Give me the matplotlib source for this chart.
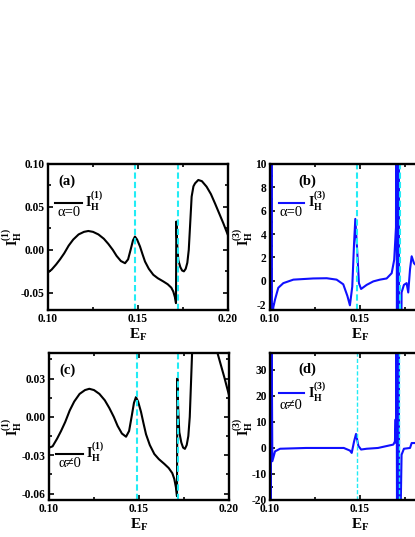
import matplotlib
matplotlib.use("Agg")
import matplotlib.pyplot as plt
from matplotlib.ticker import MultipleLocator

plt.rcParams['font.family'] = ['Liberation Serif', 'DejaVu Serif']
plt.rcParams['font.weight'] = 'bold'
plt.rcParams['mathtext.fontset'] = 'custom'
plt.rcParams['mathtext.rm'] = 'Liberation Serif:bold'
plt.rcParams['mathtext.it'] = 'Liberation Serif:bold'
plt.rcParams['mathtext.bf'] = 'Liberation Serif:bold'

# ---- data ----
ef1 = [0.1002, 0.1020, 0.1045, 0.1067, 0.1090, 0.1115, 0.1140, 0.1170, 0.1200, 0.1224,
       0.1250, 0.1280, 0.1310, 0.1335, 0.1360, 0.1381, 0.1405, 0.1428, 0.1445, 0.1460,
       0.1472, 0.1483, 0.1495, 0.1511, 0.1525, 0.1539, 0.1560, 0.1585, 0.1610, 0.1641,
       0.1665, 0.1685, 0.1696, 0.1705, 0.1711, 0.1713, 0.1718, 0.1724, 0.1735, 0.1745,
       0.1755, 0.1765, 0.1774, 0.1782, 0.1789, 0.1798, 0.1808, 0.1817, 0.1835, 0.1855,
       0.1881, 0.1905, 0.1928, 0.1950, 0.1974, 0.2000]
ih1_a0 = [-0.026, -0.023, -0.017, -0.011, -0.004, 0.005, 0.012, 0.018, 0.021, 0.022,
          0.021, 0.018, 0.013, 0.007, 0.000, -0.007, -0.013, -0.0155, -0.011, 0.001,
          0.011, 0.0155, 0.012, 0.004, -0.005, -0.0136, -0.022, -0.029, -0.033, -0.0368,
          -0.040, -0.044, -0.0485, -0.055, -0.062, 0.033, 0.005, -0.012, -0.020, -0.024,
          -0.025, -0.022, -0.015, 0.000, 0.027, 0.062, 0.074, 0.0775, 0.0814, 0.080,
          0.0736, 0.065, 0.054, 0.043, 0.031, 0.017]
ih1_an = [-0.024, -0.023, -0.017, -0.011, -0.004, 0.005, 0.012, 0.018, 0.021, 0.022,
          0.021, 0.018, 0.013, 0.007, 0.000, -0.007, -0.013, -0.0155, -0.011, 0.001,
          0.011, 0.0155, 0.012, 0.004, -0.005, -0.0136, -0.022, -0.029, -0.033, -0.0368,
          -0.040, -0.044, -0.0485, -0.055, -0.062, 0.030, 0.005, -0.012, -0.020, -0.024,
          -0.025, -0.022, -0.015, 0.000, 0.027, 0.062, 0.074, 0.0775, 0.0814, 0.080,
          0.0736, 0.065, 0.054, 0.043, 0.031, 0.017]

ef3_a0 = [0.1000, 0.1004, 0.1008, 0.1012, 0.1018, 0.1028, 0.1046, 0.1074, 0.1130, 0.1240,
          0.1315, 0.1370, 0.1407, 0.1430, 0.1444, 0.1457, 0.1467, 0.1474, 0.1485, 0.1494,
          0.1506, 0.1537, 0.1574, 0.1611, 0.1648, 0.1676, 0.1690, 0.1700, 0.1703, 0.1706,
          0.1709, 0.1712, 0.1715, 0.1718, 0.1721, 0.1731, 0.1744, 0.1759, 0.1768, 0.1778,
          0.1787, 0.1800, 0.1820]
ih3_a0 = [40.0, -30.0, 30.0, -30.0, -2.3, -1.6, -0.6, -0.2, 0.1, 0.2,
          0.22, 0.1, -0.3, -1.3, -2.1, -0.5, 3.2, 5.3, 2.4, -0.2,
          -0.7, -0.35, -0.05, 0.1, 0.2, 0.65, 1.8, 4.6, 40.0, -30.0,
          40.0, -30.0, 40.0, -30.0, -30.0, -1.0, -0.35, -0.2, -1.0, 1.0,
          2.1, 1.5, 1.2]

ef3_an = [0.1000, 0.1004, 0.1008, 0.1013, 0.1028, 0.1056, 0.1200, 0.1410, 0.1444, 0.1454,
          0.1467, 0.1478, 0.1491, 0.1506, 0.1537, 0.1600, 0.1685, 0.1694, 0.1698, 0.1700,
          0.1703, 0.1706, 0.1709, 0.1712, 0.1715, 0.1718, 0.1722, 0.1731, 0.1744, 0.1778,
          0.1787, 0.1806, 0.1820]
ih3_an = [60.0, -40.0, 60.0, -5.1, -1.3, -0.3, 0.0, 0.0, -1.0, -1.9,
          2.5, 5.4, 0.8, -0.6, -0.3, 0.0, 1.3, 2.5, 11.0, 2.0,
          60.0, -40.0, 60.0, -40.0, 60.0, -40.0, -40.0, -2.6, -0.3, 0.0,
          1.9, 1.9, 1.5]

vlines_a = [0.1483, 0.1722]
vlines_b = [0.1483, 0.1722]
vlines_c = [0.1487, 0.1715]
vlines_d = [0.1482, 0.1718]

xticks = [0.10, 0.15, 0.20]
xticklabels = ['0.10', '0.15', '0.20']

# ---- figure ----
W, H = 415, 537
fig = plt.figure(figsize=(W / 100, H / 100), dpi=100)

def pos(l, t, r, b):
    return [l / W, 1 - b / H, (r - l) / W, (b - t) / H]

ax_a = fig.add_axes(pos(48, 164, 228, 310))
ax_b = fig.add_axes(pos(270, 164, 450, 310))
ax_c = fig.add_axes(pos(49, 353, 229, 500))
ax_d = fig.add_axes(pos(270, 353, 450, 500))

cyan = '#22ecf5'
blue = '#1010ff'

def style(ax, ylim, ymaj, ymin, yfmt, ylab, ylx):
    ax.set_xlim(0.10, 0.20)
    ax.set_ylim(*ylim)
    ax.set_xticks(xticks)
    ax.set_xticklabels(xticklabels)
    ax.xaxis.set_minor_locator(MultipleLocator(0.025))
    ax.yaxis.set_major_locator(MultipleLocator(ymaj))
    ax.yaxis.set_minor_locator(MultipleLocator(ymin))
    ax.yaxis.set_major_formatter(plt.FormatStrFormatter(yfmt))
    ax.tick_params(which='both', direction='in', top=True, right=True,
                   labelsize=8.3, width=1.2, pad=2.5)
    ax.tick_params(which='major', length=3.5)
    ax.tick_params(which='minor', length=2.2)
    for lab in ax.get_xticklabels() + ax.get_yticklabels():
        lab.set_fontweight('bold')
    for sp in ax.spines.values():
        sp.set_linewidth(1.7)
    ax.set_xlabel(r'$\mathrm{E_F}$', fontsize=11, labelpad=1)
    ax.set_ylabel(ylab, fontsize=10)
    ax.yaxis.set_label_coords(ylx, 0.5)

# (a)
ax_a.plot(ef1, ih1_a0, color='black', lw=1.5, label=r'$\mathrm{I_H^{(1)}}$')
for v in vlines_a:
    ax_a.axvline(v, color=cyan, ls=(0, (3, 1.5)), lw=1.5)
style(ax_a, (-0.07, 0.10), 0.05, 0.025, '%.2f', r'$\mathrm{I_H^{(1)}}$', -0.135)
ax_a.text(0.055, 0.885, '(a)', transform=ax_a.transAxes, fontsize=10.5,
          fontweight='bold', va='center', ha='left')
ax_a.legend(loc='upper left', bbox_to_anchor=(0.01, 0.86), frameon=False,
            handlelength=1.9, handletextpad=0.25, fontsize=10, borderaxespad=0)
ax_a.text(0.055, 0.67, 'α=0', transform=ax_a.transAxes, fontsize=10.5,
          fontweight='normal', va='center', ha='left')

# (b)
ax_b.plot(ef3_a0, ih3_a0, color=blue, lw=1.5, label=r'$\mathrm{I_H^{(3)}}$')
for v in vlines_b:
    ax_b.axvline(v, color=cyan, ls=(0, (3, 1.5)), lw=1.5)
style(ax_b, (-2.5, 10), 2, 1, '%d', r'$\mathrm{I_H^{(3)}}$', -0.085)
ax_b.text(0.21, 0.885, '(b)', transform=ax_b.transAxes, fontsize=10.5,
          fontweight='bold', va='center', ha='center')
ax_b.legend(loc='upper left', bbox_to_anchor=(0.02, 0.86), frameon=False,
            handlelength=1.8, handletextpad=0.25, fontsize=10, borderaxespad=0)
ax_b.text(0.05, 0.67, 'α=0', transform=ax_b.transAxes, fontsize=10.5,
          fontweight='normal', va='center', ha='left')

# (c)
ax_c.plot(ef1, ih1_an, color='black', lw=1.5, label=r'$\mathrm{I_H^{(1)}}$')
for v in vlines_c:
    ax_c.axvline(v, color=cyan, ls=(0, (3, 1.5)), lw=1.5)
style(ax_c, (-0.065, 0.05), 0.03, 0.015, '%.2f', r'$\mathrm{I_H^{(1)}}$', -0.137)
ax_c.text(0.06, 0.88, '(c)', transform=ax_c.transAxes, fontsize=10.5,
          fontweight='bold', va='center', ha='left')
ax_c.legend(loc='upper left', bbox_to_anchor=(0.01, 0.44), frameon=False,
            handlelength=1.9, handletextpad=0.25, fontsize=10, borderaxespad=0)
ax_c.text(0.055, 0.25, 'α≠0', transform=ax_c.transAxes, fontsize=10.5,
          fontweight='normal', va='center', ha='left')

# (d)
ax_d.plot(ef3_an, ih3_an, color=blue, lw=1.5, label=r'$\mathrm{I_H^{(3)}}$')
for v in vlines_d:
    ax_d.axvline(v, color=cyan, ls=(0, (3, 1.5)), lw=1.0)
style(ax_d, (-20, 36.5), 10, 5, '%d', r'$\mathrm{I_H^{(3)}}$', -0.085)
ax_d.text(0.21, 0.89, '(d)', transform=ax_d.transAxes, fontsize=10.5,
          fontweight='bold', va='center', ha='center')
ax_d.legend(loc='upper left', bbox_to_anchor=(0.02, 0.85), frameon=False,
            handlelength=1.8, handletextpad=0.25, fontsize=10, borderaxespad=0)
ax_d.text(0.05, 0.64, 'α≠0', transform=ax_d.transAxes, fontsize=10.5,
          fontweight='normal', va='center', ha='left')

fig.savefig('out.png', dpi=100)
